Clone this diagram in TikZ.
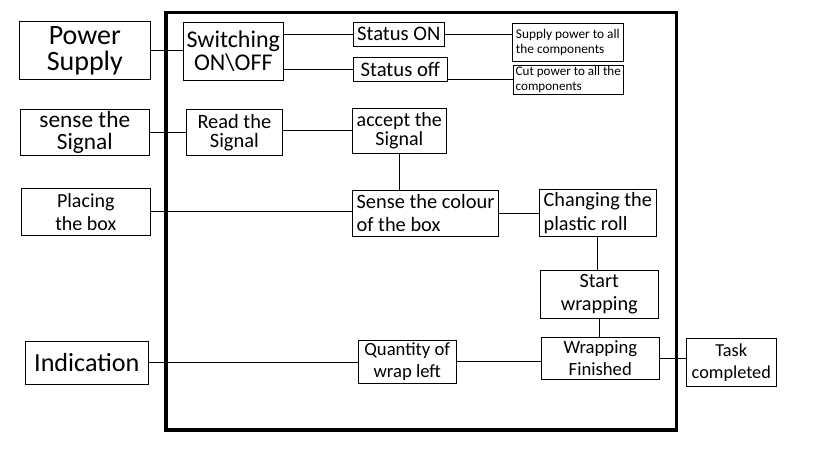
\documentclass[tikz,border=0pt]{standalone}
\usepackage{fontspec}
\setmainfont{Carlito}
\usepackage{tikz}

\newcommand{\fs}[2]{\fontsize{#1}{#2}\selectfont}

\begin{document}
\begin{tikzpicture}[x=0.75pt,y=-0.75pt,
        box/.style={draw,line width=0.75pt,inner sep=1pt,align=center},
        lbox/.style={box,align=left},
        link/.style={line width=0.75pt}]
        % Background
        \useasboundingbox[fill=white] (0,0) rectangle (816,460);

        % Frame
        \draw[line width=2.4pt] (166,12.7) rectangle (676.7,430);

        % Outside blocks
        \node[box,minimum width=98.25pt,minimum height=43.7pt,font=\fs{21}{19.5}] (power) at (84.8,50.85) {Power\\Supply};
        \node[box,minimum width=96.75pt,minimum height=35pt,font=\fs{17.5}{16.5}] (sense) at (84.8,132.65) {sense the\\Signal};
        \node[box,minimum width=96.75pt,minimum height=35.25pt,font=\fs{15}{17}] (placing) at (85.8,211.8) {Placing\\the box};
        \node[box,minimum width=92.25pt,minimum height=32.25pt,font=\fs{19.6}{20}] (indication) at (86.8,362.8) {Indication};
        \node[box,minimum width=67.5pt,minimum height=36.5pt,font=\fs{13.7}{17}] (task) at (731.3,362.65) {Task\\completed};

        % Inside blocks
        \node[box,minimum width=75pt,minimum height=43pt,font=\fs{18}{17.5}] (switch) at (233.3,51.35) {Switching\\ON\textbackslash OFF};
        \node[lbox,minimum width=68.25pt,minimum height=17.5pt,font=\fs{15.5}{16}] (statuson) at (398.8,34.35) {Status ON};
        \node[lbox,minimum width=70.5pt,minimum height=18.5pt,font=\fs{15.5}{16}] (statusoff) at (400.3,69.65) {Status off};
        \node[lbox,minimum width=83.25pt,minimum height=28.3pt,font=\fs{10}{11.25}] (supply) at (567.8,42.15) {Supply power to all\\the components};
        \node[lbox,minimum width=82.5pt,minimum height=21.75pt,font=\fs{9.8}{11.25}] (cut) at (568.3,79.8) {Cut power to all the\\components};
        \node[box,minimum width=72.5pt,minimum height=35pt,font=\fs{15.3}{14.5}] (read) at (234.35,132.65) {Read the\\Signal};
        \node[box,minimum width=70.5pt,minimum height=33.75pt,font=\fs{15}{13.8}] (accept) at (399.3,130.8) {accept the\\Signal};
        \node[lbox,minimum width=109.8pt,minimum height=34.5pt,font=\fs{15.3}{17.5}] (colour) at (425.5,213.3) {Sense the colour\\of the box};
        \node[lbox,minimum width=87.75pt,minimum height=35.75pt,font=\fs{15.2}{17.5}] (changing) at (597.8,213.15) {Changing the\\plastic roll};
        \node[box,minimum width=88.5pt,minimum height=36pt,font=\fs{15.2}{17.5}] (start) at (599.3,294.3) {Start\\wrapping};
        \node[box,minimum width=88.5pt,minimum height=31.5pt,font=\fs{14}{16.7}] (finished) at (600.3,358.3) {Wrapping\\Finished};
        \node[box,minimum width=73.5pt,minimum height=32.25pt,font=\fs{14}{16.3}] (quantity) at (407.3,361.8) {Quantity of\\wrap left};

        % Links
        \foreach \a/\b in {power/switch,statuson/supply,sense/read,placing/colour,colour/changing,finished/task,quantity/finished,indication/quantity} {
            \draw[link] (\a.east) -- (\a.east -| \b.west);
        }
        \draw[link] (switch.east |- statuson) -- (statuson.west);
        \draw[link] (switch.east |- statusoff) -- (statusoff.west);
        \draw[link] (cut.west) -- (cut.west -| statusoff.east);
        \draw[link] (read.east |- accept) -- (accept.west);
        \draw[link] (accept.south) -- (accept.south |- colour.north);
        \draw[link] (changing.south) -- (changing.south |- start.north);
        \draw[link] (start.south) -- (start.south |- finished.north);

    \end{tikzpicture}
\end{document}
